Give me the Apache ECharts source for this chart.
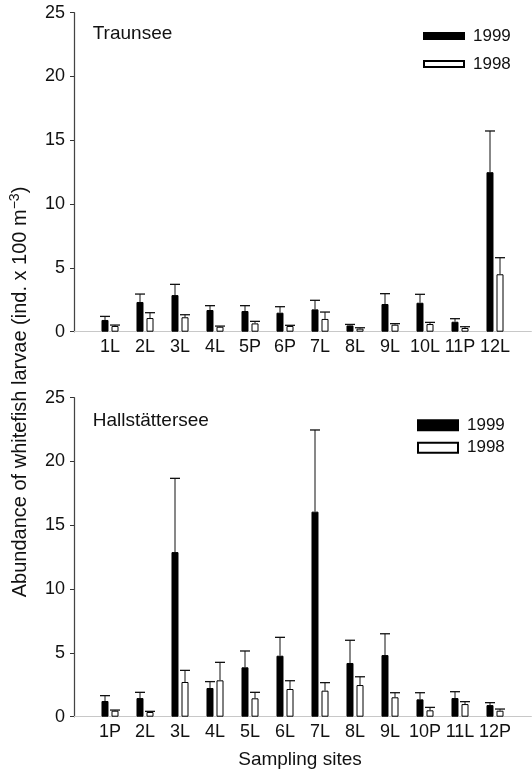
<!DOCTYPE html>
<html>
<head>
<meta charset="utf-8">
<script src="https://cdn.jsdelivr.net/npm/echarts@6/dist/echarts.min.js"></script>
<style>
  html, body { margin: 0; padding: 0; background: #fff; }
  #chart { width: 532px; height: 771px; }
</style>
</head>
<body>
<div id="chart"></div>
<script>
// 数据
const traunSites = ['1L', '2L', '3L', '4L', '5P', '6P', '7L', '8L', '9L', '10L', '11P', '12L'];
const traun1999 = [0.92, 2.33, 2.87, 1.70, 1.62, 1.49, 1.75, 0.49, 2.17, 2.27, 0.78, 12.5];
const traun1999Err = [1.20, 2.95, 3.71, 2.04, 2.04, 1.96, 2.46, 0.57, 2.98, 2.93, 1.02, 15.73];
const traun1998 = [0.45, 1.07, 1.13, 0.39, 0.65, 0.45, 1.00, 0.24, 0.55, 0.60, 0.29, 4.50];
const traun1998Err = [0.52, 1.49, 1.33, 0.44, 0.81, 0.50, 1.54, 0.31, 0.63, 0.73, 0.39, 5.80];

const hallSites = ['1P', '2L', '3L', '4L', '5L', '6L', '7L', '8L', '9L', '10P', '11L', '12P'];
const hall1999 = [1.23, 1.46, 12.9, 2.25, 3.87, 4.78, 16.07, 4.21, 4.83, 1.36, 1.46, 0.91];
const hall1999Err = [1.65, 1.91, 18.68, 2.75, 5.15, 6.22, 22.47, 5.99, 6.50, 1.88, 1.96, 1.10];
const hall1998 = [0.47, 0.37, 2.72, 2.85, 1.44, 2.17, 2.04, 2.48, 1.52, 0.50, 0.99, 0.47];
const hall1998Err = [0.52, 0.42, 3.63, 4.26, 1.91, 2.82, 2.67, 3.13, 1.88, 0.73, 1.18, 0.60];

const yTicks = [0, 5, 10, 15, 20, 25];

const FONT = 'Liberation Sans, Arial, sans-serif';
const BAR_W = 7;
const HALF_STEP = 5; // 柱中心到类目中心的距离

// 误差线（只画上方）
function errRender(offset) {
    return function (params, api) {
        const x = api.coord([api.value(0), 0])[0] + offset;
        const base = api.coord([api.value(0), api.value(1)])[1];
        const top = api.coord([api.value(0), api.value(2)])[1];
        return {
            type: 'group',
            children: [
                { type: 'line', shape: { x1: x, y1: base, x2: x, y2: top }, style: { stroke: '#111', lineWidth: 1 } },
                { type: 'line', shape: { x1: x - 5, y1: top, x2: x + 5, y2: top }, style: { stroke: '#111', lineWidth: 1.3 } }
            ]
        };
    };
}

function zip(vals, errs) {
    return vals.map((v, i) => [i, v, errs[i]]);
}

// 一个面板：外框网格 + 柱子网格
function panel(top, k, sites) {
    const frame = 2 * k, bars = 2 * k + 1;
    const grids = [
        { left: 74, width: 456.7, top: top, height: 319 },
        { left: 92.5, width: 420, top: top, height: 319 }
    ];
    const xAxes = [
        { gridIndex: frame, type: 'value', min: 0, max: 1, position: 'bottom',
          axisLine: { lineStyle: { color: '#111', width: 1.2 } }, axisTick: { show: false },
          axisLabel: { show: false }, splitLine: { show: false } },
        { gridIndex: frame, type: 'value', min: 0, max: 1, position: 'top',
          axisLine: { lineStyle: { color: '#c8c8c8', width: 1.2 } }, axisTick: { show: false },
          axisLabel: { show: false }, splitLine: { show: false } },
        { gridIndex: bars, type: 'category', data: sites, position: 'bottom',
          axisLine: { show: false },
          axisTick: { alignWithLabel: true, interval: 0, length: 4, lineStyle: { color: '#111' } },
          axisLabel: { interval: 0, fontFamily: FONT, fontSize: 18, color: '#111', margin: 6 } }
    ];
    const yAxes = [
        { gridIndex: frame, type: 'value', min: 0, max: 25, interval: 5, position: 'left',
          axisLine: { show: true, lineStyle: { color: '#c8c8c8', width: 1.2 } },
          axisTick: { show: true, length: 4, lineStyle: { color: '#333' } },
          axisLabel: { fontFamily: FONT, fontSize: 18, color: '#111', margin: 9,
                       formatter: v => (yTicks.indexOf(v) >= 0 ? String(v) : '') },
          splitLine: { show: false } },
        { gridIndex: frame, type: 'value', min: 0, max: 25, position: 'right',
          axisLine: { show: true, lineStyle: { color: '#444', width: 1.2 } },
          axisTick: { show: false }, axisLabel: { show: false }, splitLine: { show: false } },
        { gridIndex: bars, type: 'value', min: 0, max: 25, show: false, splitLine: { show: false } }
    ];
    return { grids, xAxes, yAxes };
}

const p1 = panel(12.7, 0, traunSites);
const p2 = panel(397.7, 1, hallSites);

function barSeries(xi, yi, data, fill) {
    return {
        type: 'bar', name: fill === '#000' ? '1999' : '1998',
        xAxisIndex: xi, yAxisIndex: yi, data: data, barWidth: BAR_W, barGap: '43%',
        itemStyle: { color: fill, borderColor: '#000', borderWidth: 1 },
        z: 2
    };
}
function errSeries(xi, yi, vals, errs, offset) {
    return {
        type: 'custom', xAxisIndex: xi, yAxisIndex: yi,
        renderItem: errRender(offset), data: zip(vals, errs), z: 3,
        encode: { x: 0, y: 2 }
    };
}

const legendText = { fontFamily: FONT, fontSize: 17, color: '#111', padding: [0, 0, 0, 4] };

const option = {
    animation: false,
    textStyle: { fontFamily: FONT },
    grid: p1.grids.concat(p2.grids),
    xAxis: p1.xAxes.concat(p2.xAxes),
    yAxis: p1.yAxes.concat(p2.yAxes),
    legend: [
        { left: 423, top: 27.5, padding: 0, orient: 'vertical', itemWidth: 40, itemHeight: 6, itemGap: 11,
          icon: 'rect', selectedMode: false, data: ['1999', '1998'], textStyle: legendText },
        { left: 417, top: 416.7, padding: 0, orient: 'vertical', itemWidth: 40, itemHeight: 10, itemGap: 5.5,
          icon: 'rect', selectedMode: false, data: ['1999', '1998'], textStyle: legendText }
    ],
    series: [
        barSeries(2, 2, traun1999, '#000'),
        barSeries(2, 2, traun1998, '#fff'),
        errSeries(2, 2, traun1999, traun1999Err, -HALF_STEP),
        errSeries(2, 2, traun1998, traun1998Err, HALF_STEP),
        barSeries(5, 5, hall1999, '#000'),
        barSeries(5, 5, hall1998, '#fff'),
        errSeries(5, 5, hall1999, hall1999Err, -HALF_STEP),
        errSeries(5, 5, hall1998, hall1998Err, HALF_STEP)
    ],
    graphic: [
        { type: 'text', left: 92.7, top: 24, style: { text: 'Traunsee', font: '19px ' + FONT, fill: '#111' } },
        { type: 'text', left: 92.7, top: 411.5, style: { text: 'Hallstättersee', font: '19px ' + FONT, fill: '#111' } },
        { type: 'text', x: 300, y: 760, style: { text: 'Sampling sites', font: '19px ' + FONT, fill: '#111', align: 'center', verticalAlign: 'middle' } },
        {
            type: 'text', x: 20, y: 392, rotation: Math.PI / 2,
            style: {
                text: 'Abundance of whitefish larvae (ind. x 100 m{sup|−3})',
                font: '20px ' + FONT, fill: '#111', align: 'center', verticalAlign: 'middle',
                rich: { sup: { fontSize: 14, fontFamily: FONT, fill: '#111', verticalAlign: 'top', padding: [0, 0, 9, 0] } }
            }
        }
    ]
};

document.addEventListener('DOMContentLoaded', () => {
    const chart = echarts.init(document.getElementById('chart'));
    chart.setOption(option);
});
</script>
</body>
</html>
